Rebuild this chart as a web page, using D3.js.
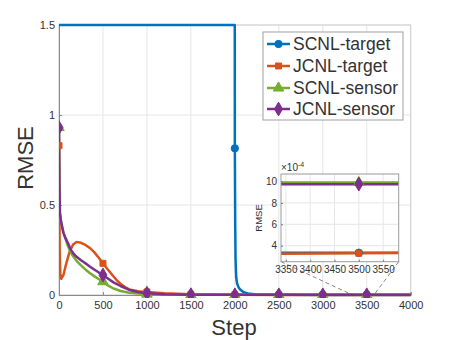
<!doctype html>
<html>
<head>
<meta charset="utf-8">
<script src="https://cdn.jsdelivr.net/npm/d3@7"></script>
<style>
  body { margin: 0; background: #fff; }
  text { font-family: "Liberation Sans", Arial, sans-serif; fill: #333; }
</style>
</head>
<body>
<script>
// series names and colours
var names = ['SCNL-target', 'JCNL-target', 'SCNL-sensor', 'JCNL-sensor'];
var colors = ['#0072BD', '#D95319', '#77AC30', '#7E2F8E'];

// data
var scnlTargetSteps = [0, 500, 1000, 1500, 1999, 2000, 2004, 2008, 2015, 2025, 2040, 2060, 2100, 2150, 2250, 2500, 3000, 3500, 4000];
var scnlTargetRmse = [1.5, 1.5, 1.5, 1.5, 1.5, 0.815, 0.4, 0.2, 0.1, 0.065, 0.045, 0.03, 0.015, 0.008, 0.003, 0.0008, 0.000334, 0.000334, 0.000334];

var jcnlTargetSteps = [0, 3, 8, 15, 25, 50, 80, 120, 160, 200, 250, 300, 350, 400, 450, 500, 550, 600, 650, 700, 750, 800, 900, 1000, 1200, 1500, 2000, 2500, 3000, 3500, 4000];
var jcnlTargetRmse = [0.83, 0.55, 0.25, 0.12, 0.09, 0.11, 0.17, 0.24, 0.28, 0.295, 0.29, 0.278, 0.262, 0.238, 0.208, 0.176, 0.145, 0.115, 0.086, 0.062, 0.044, 0.031, 0.021, 0.017, 0.01, 0.004, 0.0012, 0.0005, 0.000318, 0.000329, 0.00034];

var scnlSensorSteps = [0, 5, 10, 20, 35, 50, 75, 100, 130, 165, 200, 250, 300, 350, 400, 450, 500, 560, 620, 700, 800, 900, 1000, 1200, 1500, 2000, 2500, 3000, 3500, 4000];
var scnlSensorRmse = [0.93, 0.6, 0.45, 0.41, 0.38, 0.35, 0.31, 0.275, 0.24, 0.212, 0.19, 0.165, 0.142, 0.122, 0.105, 0.089, 0.074, 0.052, 0.036, 0.022, 0.013, 0.008, 0.005, 0.003, 0.0015, 0.00099, 0.00099, 0.00099, 0.00099, 0.00099];

var jcnlSensorSteps = [0, 5, 10, 20, 35, 50, 70, 100, 130, 165, 200, 250, 300, 350, 400, 450, 500, 560, 620, 700, 800, 900, 1000, 1200, 1500, 2000, 2500, 3000, 3500, 4000];
var jcnlSensorRmse = [0.93, 0.6, 0.46, 0.42, 0.38, 0.345, 0.32, 0.29, 0.255, 0.23, 0.212, 0.193, 0.176, 0.158, 0.142, 0.126, 0.111, 0.09, 0.07, 0.05, 0.028, 0.016, 0.01, 0.004, 0.0015, 0.000975, 0.000975, 0.000975, 0.000975, 0.000975];

var markerSteps = [0, 500, 1000, 1500, 2000, 2500, 3000, 3500];

// ticks
var xTicks = [0, 500, 1000, 1500, 2000, 2500, 3000, 3500, 4000];
var yTicks = [0, 0.5, 1, 1.5];
var yTickLabels = ['0', '0.5', '1', '1.5'];
var insetXTicks = [3350, 3400, 3450, 3500, 3550];
var insetYTicks = [4, 6, 8, 10];

var stepsList = [scnlTargetSteps, jcnlTargetSteps, scnlSensorSteps, jcnlSensorSteps];
var rmseList = [scnlTargetRmse, jcnlTargetRmse, scnlSensorRmse, jcnlSensorRmse];
var series = names.map(function(n, i) {
  return { name: n, color: colors[i], points: stepsList[i].map(function(s, j) { return [s, rmseList[i][j]]; }) };
});

var width = 453, height = 340;
var svg = d3.select('body').append('svg').attr('width', width).attr('height', height);

var symbols = [
  d3.symbol().type(d3.symbolCircle).size(42),
  d3.symbol().type(d3.symbolSquare).size(36),
  d3.symbol().type(d3.symbolTriangle).size(48),
  d3.symbol().type(d3.symbolDiamond).size(55)
];

// main axes
var x = d3.scaleLinear().domain([0, 4000]).range([59, 410.7]);
var y = d3.scaleLinear().domain([0, 1.5]).range([295, 25]);

svg.append('clipPath').attr('id', 'mainClip').append('rect')
  .attr('x', 59).attr('y', 20).attr('width', 352).attr('height', 278);

var main = svg.append('g');

// grid
main.append('g').selectAll('line').data(xTicks).enter().append('line')
  .attr('x1', function(d) { return x(d); }).attr('x2', function(d) { return x(d); })
  .attr('y1', 25).attr('y2', 295).attr('stroke', '#e6e6e6').attr('stroke-width', 1);
main.append('g').selectAll('line').data(yTicks).enter().append('line')
  .attr('y1', function(d) { return y(d); }).attr('y2', function(d) { return y(d); })
  .attr('x1', 59).attr('x2', 410.7).attr('stroke', '#e6e6e6').attr('stroke-width', 1);

// box
main.append('rect').attr('x', 59).attr('y', 25).attr('width', 351.7).attr('height', 270)
  .attr('fill', 'none').attr('stroke', '#d0d0d0').attr('stroke-width', 1);

var xAxis = main.append('g').attr('transform', 'translate(0,295)')
  .call(d3.axisBottom(x).tickValues(xTicks).tickSize(-3).tickPadding(6).tickFormat(d3.format('d')));
var yAxis = main.append('g').attr('transform', 'translate(59,0)')
  .call(d3.axisLeft(y).tickValues(yTicks).tickSize(-3).tickPadding(4)
    .tickFormat(function(d, i) { return yTickLabels[i]; }));
[xAxis, yAxis].forEach(function(a) {
  a.select('.domain').attr('stroke', '#8a8a8a');
  a.selectAll('.tick line').attr('stroke', '#8a8a8a');
  a.selectAll('.tick text').attr('fill', '#333').style('font-size', '11px')
    .style('font-family', '"Liberation Sans", Arial, sans-serif');
});

var line = d3.line().x(function(d) { return x(d[0]); }).y(function(d) { return y(d[1]); });

var plot = main.append('g').attr('clip-path', 'url(#mainClip)');
series.forEach(function(s, i) {
  plot.append('path').attr('d', line(s.points)).attr('fill', 'none')
    .attr('stroke', s.color).attr('stroke-width', 2.5).attr('stroke-linejoin', 'round');
});
series.forEach(function(s, i) {
  var pts = s.points.filter(function(p) { return markerSteps.indexOf(p[0]) >= 0 && p[1] < 1.5; });
  plot.selectAll('.m' + i).data(pts).enter().append('path')
    .attr('transform', function(d) { return 'translate(' + x(d[0]) + ',' + y(d[1]) + ')'; })
    .attr('d', symbols[i]).attr('fill', s.color).attr('stroke', s.color).attr('stroke-width', 1);
});

// axis titles
svg.append('text').attr('x', 234).attr('y', 335).attr('text-anchor', 'middle')
  .style('font-size', '22px').text('Step');
svg.append('text').attr('transform', 'translate(33,158) rotate(-90)').attr('text-anchor', 'middle')
  .style('font-size', '22px').text('RMSE');

// inset
var ix = d3.scaleLinear().domain([3340, 3582]).range([281, 398.7]);
var iy = d3.scaleLinear().domain([2.5e-4, 10.7e-4]).range([261.7, 174]);

// dashed connectors
svg.append('line').attr('x1', 281).attr('y1', 261.7).attr('x2', x(3340)).attr('y2', 295)
  .attr('stroke', '#333').attr('stroke-width', 0.6).attr('stroke-dasharray', '4,3');
svg.append('line').attr('x1', 398.7).attr('y1', 261.7).attr('x2', x(3582)).attr('y2', 295)
  .attr('stroke', '#333').attr('stroke-width', 0.6).attr('stroke-dasharray', '4,3');

svg.append('clipPath').attr('id', 'insetClip').append('rect')
  .attr('x', 281).attr('y', 174).attr('width', 117.7).attr('height', 87.7);

var inset = svg.append('g');
inset.append('rect').attr('x', 281).attr('y', 174).attr('width', 117.7).attr('height', 87.7).attr('fill', '#fff');
inset.append('g').selectAll('line').data(insetXTicks).enter().append('line')
  .attr('x1', function(d) { return ix(d); }).attr('x2', function(d) { return ix(d); })
  .attr('y1', 174).attr('y2', 261.7).attr('stroke', '#e6e6e6');
inset.append('g').selectAll('line').data(insetYTicks).enter().append('line')
  .attr('y1', function(d) { return iy(d * 1e-4); }).attr('y2', function(d) { return iy(d * 1e-4); })
  .attr('x1', 281).attr('x2', 398.7).attr('stroke', '#e6e6e6');

var iline = d3.line().x(function(d) { return ix(d[0]); }).y(function(d) { return iy(d[1]); });
var iplot = inset.append('g').attr('clip-path', 'url(#insetClip)');
series.forEach(function(s, i) {
  iplot.append('path').attr('d', iline(s.points)).attr('fill', 'none')
    .attr('stroke', s.color).attr('stroke-width', 2.5);
});
series.forEach(function(s, i) {
  var pts = s.points.filter(function(p) { return p[0] === 3500; });
  iplot.selectAll('.im' + i).data(pts).enter().append('path')
    .attr('transform', function(d) { return 'translate(' + ix(d[0]) + ',' + iy(d[1]) + ')'; })
    .attr('d', symbols[i]).attr('fill', s.color).attr('stroke', s.color).attr('stroke-width', 1);
});

inset.append('rect').attr('x', 281).attr('y', 174).attr('width', 117.7).attr('height', 87.7)
  .attr('fill', 'none').attr('stroke', '#9a9a9a').attr('stroke-width', 1);

var ixAxis = inset.append('g').attr('transform', 'translate(0,261.7)')
  .call(d3.axisBottom(ix).tickValues(insetXTicks).tickSize(-2).tickPadding(4).tickFormat(d3.format('d')));
var iyAxis = inset.append('g').attr('transform', 'translate(281,0)')
  .call(d3.axisLeft(iy).tickValues(insetYTicks.map(function(d) { return d * 1e-4; })).tickSize(-2).tickPadding(4)
    .tickFormat(function(d) { return Math.round(d * 1e4); }));
[ixAxis, iyAxis].forEach(function(a) {
  a.select('.domain').remove();
  a.selectAll('.tick line').attr('stroke', '#777');
  a.selectAll('.tick text').attr('fill', '#333').style('font-size', '10px')
    .style('font-family', '"Liberation Sans", Arial, sans-serif');
});

var expo = svg.append('text').attr('x', 281).attr('y', 171).style('font-size', '10px');
expo.append('tspan').text('\u00d710');
expo.append('tspan').attr('dy', -4).style('font-size', '7px').text('-4');

svg.append('text').attr('transform', 'translate(262,218) rotate(-90)').attr('text-anchor', 'middle')
  .style('font-size', '9.5px').text('RMSE');

// legend
var legend = svg.append('g');
legend.append('rect').attr('x', 263).attr('y', 32).attr('width', 140).attr('height', 88)
  .attr('fill', '#fff').attr('stroke', '#a0a0a0').attr('stroke-width', 1);
var rowY = [44, 66, 88, 109];
series.forEach(function(s, i) {
  var g = legend.append('g').attr('transform', 'translate(0,' + rowY[i] + ')');
  g.append('line').attr('x1', 267).attr('x2', 290).attr('y1', 0).attr('y2', 0)
    .attr('stroke', s.color).attr('stroke-width', 2.5);
  g.append('path').attr('transform', 'translate(278.5,0)').attr('d', symbols[i])
    .attr('fill', s.color).attr('stroke', s.color);
  g.append('text').attr('x', 293).attr('y', 0).attr('dy', '0.36em')
    .style('font-size', '17.5px').text(s.name);
});
</script>
</body>
</html>
